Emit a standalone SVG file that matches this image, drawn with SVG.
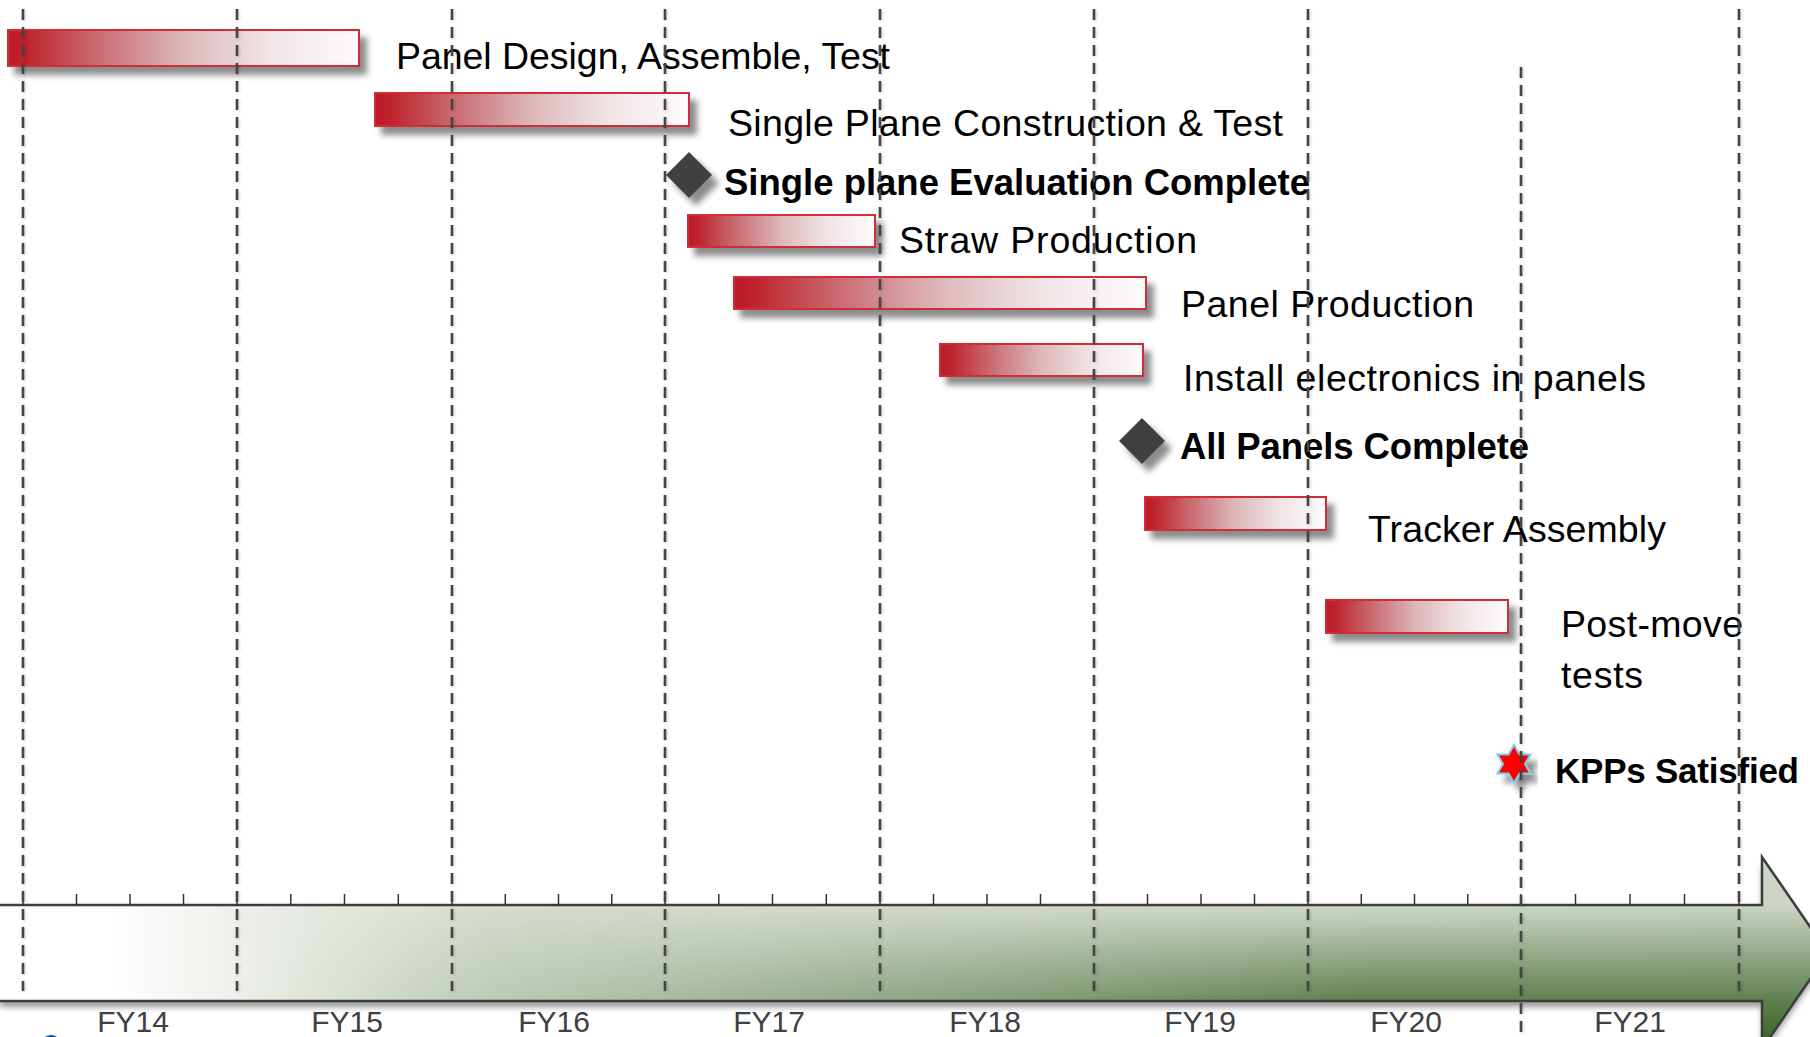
<svg xmlns="http://www.w3.org/2000/svg" width="1810" height="1037" viewBox="0 0 1810 1037">
<defs>
<style>
.lbl{font-family:"Liberation Sans",Arial,sans-serif;font-size:37.5px;fill:#000}
.bold{font-weight:bold;font-size:36.5px}
.fy{font-family:"Liberation Sans",Arial,sans-serif;font-size:30px;fill:#404040;text-anchor:middle}
.bar{fill:url(#barGrad);stroke:#cf2f38;stroke-width:2;filter:url(#sh)}
.grid{stroke:#444;stroke-width:2.6;stroke-dasharray:11 7;fill:none}
.tick{stroke:#333;stroke-width:1.5}
.dia{fill:#404040;filter:url(#sh)}
</style>
<linearGradient id="barGrad" x1="0" y1="0" x2="1" y2="0">
<stop offset="0" stop-color="#bd1e29"/>
<stop offset="0.04" stop-color="#be2029"/>
<stop offset="0.25" stop-color="#c96a70"/>
<stop offset="0.5" stop-color="#ddb8bb"/>
<stop offset="0.75" stop-color="#f1e5e6"/>
<stop offset="1" stop-color="#fdfbfb"/>
</linearGradient>
<linearGradient id="baseGrad" gradientUnits="userSpaceOnUse" x1="0" y1="0" x2="1830" y2="0">
<stop offset="0" stop-color="#ffffff"/>
<stop offset="0.06" stop-color="#ffffff"/>
<stop offset="0.14" stop-color="#eaeee7"/>
<stop offset="0.27" stop-color="#d6ddd0"/>
<stop offset="1" stop-color="#ccd5c5"/>
</linearGradient>
<linearGradient id="darkGrad" gradientUnits="userSpaceOnUse" x1="0" y1="905" x2="0" y2="1049">
<stop offset="0" stop-color="#4a7038" stop-opacity="0"/>
<stop offset="0.667" stop-color="#4a7038" stop-opacity="0.85"/>
<stop offset="1" stop-color="#33601f" stop-opacity="1"/>
</linearGradient>
<linearGradient id="maskGrad" gradientUnits="userSpaceOnUse" x1="260" y1="0" x2="1372" y2="0">
<stop offset="0" stop-color="#000"/>
<stop offset="1" stop-color="#fff"/>
</linearGradient>
<mask id="darkMask" maskUnits="userSpaceOnUse" x="0" y="840" width="1840" height="220">
<rect x="0" y="840" width="1840" height="220" fill="url(#maskGrad)"/>
</mask>
<filter id="sh" x="-10%" y="-30%" width="130%" height="180%">
<feGaussianBlur in="SourceAlpha" stdDeviation="3"/>
<feOffset dx="7" dy="8" result="b"/>
<feFlood flood-color="#000" flood-opacity="0.45"/>
<feComposite in2="b" operator="in"/>
<feMerge><feMergeNode/><feMergeNode in="SourceGraphic"/></feMerge>
</filter>
<filter id="ash" x="-5%" y="-20%" width="110%" height="150%">
<feGaussianBlur in="SourceAlpha" stdDeviation="3"/>
<feOffset dx="0" dy="6" result="b"/>
<feFlood flood-color="#000" flood-opacity="0.4"/>
<feComposite in2="b" operator="in"/>
<feMerge><feMergeNode/><feMergeNode in="SourceGraphic"/></feMerge>
</filter>
<filter id="gsh" x="-200%" y="-1%" width="500%" height="102%">
<feGaussianBlur in="SourceAlpha" stdDeviation="1.5"/>
<feOffset dx="1" dy="1" result="b"/>
<feFlood flood-color="#000" flood-opacity="0.2"/>
<feComposite in2="b" operator="in"/>
<feMerge><feMergeNode/><feMergeNode in="SourceGraphic"/></feMerge>
</filter>
</defs>
<rect width="1810" height="1037" fill="#fff"/>

<g id="timeline-axis">
<path d="M0,905 H1762 V857 L1828,953 L1762,1049 V1001 H0 Z" fill="url(#baseGrad)" filter="url(#ash)"/>
<path d="M0,905 H1762 V857 L1828,953 L1762,1049 V1001 H0 Z" fill="url(#darkGrad)" mask="url(#darkMask)"/>
<path d="M0,905 H1762 V857 L1828,953 L1762,1049 V1001 H0" fill="none" stroke="#3d3d3d" stroke-width="2.5"/>
<g id="ticks" class="tick">
<line x1="23" y1="894" x2="23" y2="905"/><line x1="76.5" y1="894" x2="76.5" y2="905"/><line x1="130" y1="894" x2="130" y2="905"/><line x1="183.5" y1="894" x2="183.5" y2="905"/>
<line x1="237" y1="894" x2="237" y2="905"/><line x1="290.8" y1="894" x2="290.8" y2="905"/><line x1="344.5" y1="894" x2="344.5" y2="905"/><line x1="398.3" y1="894" x2="398.3" y2="905"/>
<line x1="452" y1="894" x2="452" y2="905"/><line x1="505.3" y1="894" x2="505.3" y2="905"/><line x1="558.5" y1="894" x2="558.5" y2="905"/><line x1="611.8" y1="894" x2="611.8" y2="905"/>
<line x1="665" y1="894" x2="665" y2="905"/><line x1="718.8" y1="894" x2="718.8" y2="905"/><line x1="772.5" y1="894" x2="772.5" y2="905"/><line x1="826.3" y1="894" x2="826.3" y2="905"/>
<line x1="880" y1="894" x2="880" y2="905"/><line x1="933.5" y1="894" x2="933.5" y2="905"/><line x1="987" y1="894" x2="987" y2="905"/><line x1="1040.5" y1="894" x2="1040.5" y2="905"/>
<line x1="1094" y1="894" x2="1094" y2="905"/><line x1="1147.5" y1="894" x2="1147.5" y2="905"/><line x1="1201" y1="894" x2="1201" y2="905"/><line x1="1254.5" y1="894" x2="1254.5" y2="905"/>
<line x1="1308" y1="894" x2="1308" y2="905"/><line x1="1361.3" y1="894" x2="1361.3" y2="905"/><line x1="1414.5" y1="894" x2="1414.5" y2="905"/><line x1="1467.8" y1="894" x2="1467.8" y2="905"/>
<line x1="1521" y1="894" x2="1521" y2="905"/><line x1="1575.5" y1="894" x2="1575.5" y2="905"/><line x1="1630" y1="894" x2="1630" y2="905"/><line x1="1684.5" y1="894" x2="1684.5" y2="905"/>
<line x1="1739" y1="894" x2="1739" y2="905"/>
</g>
<g id="year-labels">
<text class="fy" x="133" y="1032">FY14</text>
<text class="fy" x="347" y="1032">FY15</text>
<text class="fy" x="554" y="1032">FY16</text>
<text class="fy" x="769" y="1032">FY17</text>
<text class="fy" x="985" y="1032">FY18</text>
<text class="fy" x="1200" y="1032">FY19</text>
<text class="fy" x="1406" y="1032">FY20</text>
<text class="fy" x="1630" y="1032">FY21</text>
</g>
</g>
<circle cx="51" cy="1045" r="10" fill="#1b4f8f"/>

<g id="task-panel-design">
<rect class="bar" x="8" y="30" width="351" height="36"/>
<text class="lbl" x="396" y="69" textLength="494" lengthAdjust="spacing">Panel Design, Assemble, Test</text>
</g>
<g id="task-single-plane">
<rect class="bar" x="375" y="93" width="314" height="33"/>
<text class="lbl" x="728" y="136" textLength="555" lengthAdjust="spacing">Single Plane Construction &amp; Test</text>
</g>
<g id="milestone-single-plane-eval">
<polygon class="dia" points="689,152 712,175 689,198 666,175"/>
<text class="lbl bold" x="724" y="195" textLength="586" lengthAdjust="spacing">Single plane Evaluation Complete</text>
</g>
<g id="task-straw-production">
<rect class="bar" x="688" y="215" width="187" height="32"/>
<text class="lbl" x="899" y="253" textLength="298" lengthAdjust="spacing">Straw Production</text>
</g>
<g id="task-panel-production">
<rect class="bar" x="734" y="277" width="412" height="32"/>
<text class="lbl" x="1181" y="317" textLength="293" lengthAdjust="spacing">Panel Production</text>
</g>
<g id="task-install-electronics">
<rect class="bar" x="940" y="344" width="203" height="32"/>
<text class="lbl" x="1183" y="391" textLength="463" lengthAdjust="spacing">Install electronics in panels</text>
</g>
<g id="milestone-all-panels">
<polygon class="dia" points="1142,418 1165,441 1142,464 1119,441"/>
<text class="lbl bold" x="1180" y="459" textLength="349" lengthAdjust="spacing">All Panels Complete</text>
</g>
<g id="task-tracker-assembly">
<rect class="bar" x="1145" y="497" width="181" height="33"/>
<text class="lbl" x="1368" y="542" textLength="298" lengthAdjust="spacing">Tracker Assembly</text>
</g>
<g id="task-post-move">
<rect class="bar" x="1326" y="600" width="182" height="33"/>
<text class="lbl" x="1561" y="637" textLength="182" lengthAdjust="spacing">Post-move</text>
<text class="lbl" x="1561" y="688" textLength="82" lengthAdjust="spacing">tests</text>
</g>
<g id="milestone-kpps">
<polygon points="1514,745 1519.5,754.5 1530.5,754.5 1525,764 1530.5,773.5 1519.5,773.5 1514,783 1508.5,773.5 1497.5,773.5 1503,764 1497.5,754.5 1508.5,754.5" fill="#ff0000" stroke="#7ccfe6" stroke-width="2" filter="url(#sh)"/>
<text class="lbl bold" x="1555" y="783" style="font-size:35px" textLength="244" lengthAdjust="spacing">KPPs Satisfied</text>
</g>

<g id="connectors" filter="url(#gsh)">
<line class="grid" x1="23" y1="9" x2="23" y2="991"/>
<line class="grid" x1="237" y1="9" x2="237" y2="991"/>
<line class="grid" x1="452" y1="9" x2="452" y2="991"/>
<line class="grid" x1="665" y1="9" x2="665" y2="991"/>
<line class="grid" x1="880" y1="9" x2="880" y2="991"/>
<line class="grid" x1="1094" y1="9" x2="1094" y2="991"/>
<line class="grid" x1="1308" y1="9" x2="1308" y2="991"/>
<line class="grid" x1="1521" y1="67" x2="1521" y2="1037"/>
<line class="grid" x1="1739" y1="9" x2="1739" y2="991"/>
</g>
</svg>
